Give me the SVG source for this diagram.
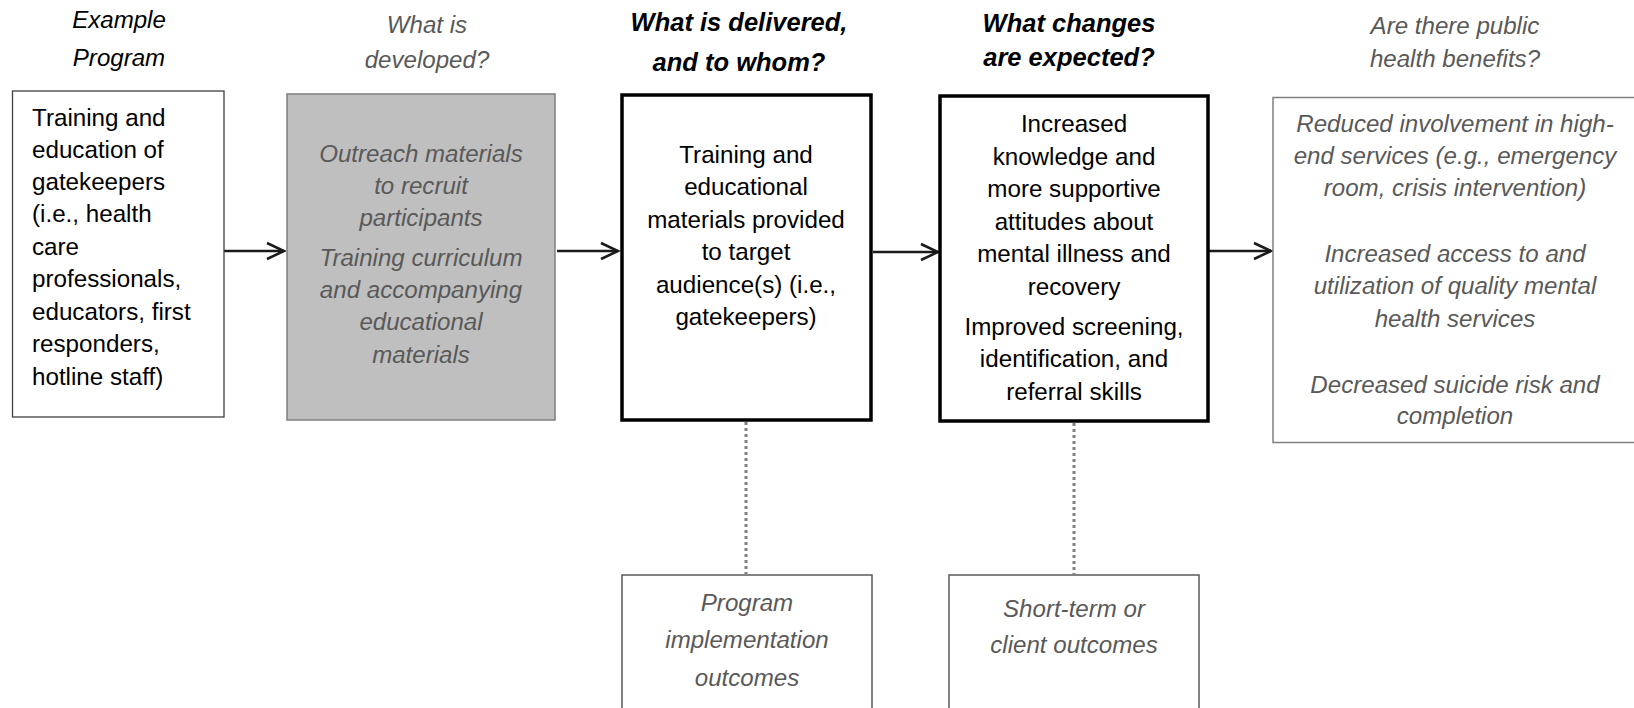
<svg xmlns="http://www.w3.org/2000/svg" width="1634" height="708" viewBox="0 0 1634 708">
<style>
text{font-family:"Liberation Sans",Arial,sans-serif;font-size:24.1px}
.c{text-anchor:middle}
.it{font-style:italic}
.g{fill:#595959}
.k{fill:#000}
.r{font-size:24.2px}
.hb{font-weight:bold;font-style:italic;font-size:25.5px}
.conn{stroke:#1a1a1a;stroke-width:2.5;fill:none}
.dot{stroke:#808080;stroke-width:3;stroke-dasharray:3 3;fill:none}
</style>
<defs>
<marker id="ah" markerUnits="userSpaceOnUse" markerWidth="24" markerHeight="22" refX="19" refY="11" orient="auto">
<path d="M2,3 L19,11 L2,19" fill="none" stroke="#1a1a1a" stroke-width="2.5"/>
</marker>
</defs>
<rect width="1634" height="708" fill="#fff"/>

<g id="headers">
<text class="c it k" x="119" y="28">Example</text>
<text class="c it k" x="119" y="66">Program</text>
<text class="c it g" x="427" y="33">What is</text>
<text class="c it g" x="427" y="68">developed?</text>
<text class="c hb k" x="739" y="31">What is delivered,</text>
<text class="c hb k" x="739" y="71">and to whom?</text>
<text class="c hb k" x="1069" y="32">What changes</text>
<text class="c hb k" x="1069" y="66">are expected?</text>
<text class="c it g" x="1455" y="34">Are there public</text>
<text class="c it g" x="1455" y="67">health benefits?</text>
</g>

<g id="connectors">
<line class="conn" x1="224" y1="251" x2="284" y2="251" marker-end="url(#ah)"/>
<line class="conn" x1="557" y1="251" x2="618" y2="251" marker-end="url(#ah)"/>
<line class="conn" x1="873" y1="252" x2="938" y2="252" marker-end="url(#ah)"/>
<line class="conn" x1="1209" y1="251" x2="1271" y2="251" marker-end="url(#ah)"/>
<line class="dot" x1="746" y1="422" x2="746" y2="574"/>
<line class="dot" x1="1074" y1="423" x2="1074" y2="574"/>
</g>

<g id="node-program">
<rect x="12.5" y="91" width="211.5" height="326" fill="#fff" stroke="#404040" stroke-width="1.3"/>
<text class="k r" x="32" y="126">Training and</text>
<text class="k r" x="32" y="158">education of</text>
<text class="k r" x="32" y="190">gatekeepers</text>
<text class="k r" x="32" y="222">(i.e., health</text>
<text class="k r" x="32" y="255">care</text>
<text class="k r" x="32" y="287">professionals,</text>
<text class="k r" x="32" y="320">educators, first</text>
<text class="k r" x="32" y="352">responders,</text>
<text class="k r" x="32" y="385">hotline staff)</text>
</g>

<g id="node-developed">
<rect x="287" y="94" width="268" height="326" fill="#bfbfbf" stroke="#7f7f7f" stroke-width="1.5"/>
<text class="c it g" x="421" y="162">Outreach materials</text>
<text class="c it g" x="421" y="194">to recruit</text>
<text class="c it g" x="421" y="226">participants</text>
<text class="c it g" x="421" y="266">Training curriculum</text>
<text class="c it g" x="421" y="298">and accompanying</text>
<text class="c it g" x="421" y="330">educational</text>
<text class="c it g" x="421" y="363">materials</text>
</g>

<g id="node-delivered">
<rect x="622" y="95" width="249" height="325" fill="#fff" stroke="#000" stroke-width="3.5"/>
<text class="c k r" x="746" y="163">Training and</text>
<text class="c k r" x="746" y="195">educational</text>
<text class="c k r" x="746" y="228">materials provided</text>
<text class="c k r" x="746" y="260">to target</text>
<text class="c k r" x="746" y="293">audience(s) (i.e.,</text>
<text class="c k r" x="746" y="325">gatekeepers)</text>
</g>

<g id="node-changes">
<rect x="940" y="96" width="268" height="325" fill="#fff" stroke="#000" stroke-width="3.5"/>
<text class="c k r" x="1074" y="132">Increased</text>
<text class="c k r" x="1074" y="165">knowledge and</text>
<text class="c k r" x="1074" y="197">more supportive</text>
<text class="c k r" x="1074" y="230">attitudes about</text>
<text class="c k r" x="1074" y="262">mental illness and</text>
<text class="c k r" x="1074" y="295">recovery</text>
<text class="c k r" x="1074" y="335">Improved screening,</text>
<text class="c k r" x="1074" y="367">identification, and</text>
<text class="c k r" x="1074" y="400">referral skills</text>
</g>

<g id="node-benefits">
<rect x="1273" y="97.5" width="380" height="345" fill="#fff" stroke="#808080" stroke-width="1.5"/>
<text class="c it g" x="1455" y="132">Reduced involvement in high-</text>
<text class="c it g" x="1455" y="164">end services (e.g., emergency</text>
<text class="c it g" x="1455" y="196">room, crisis intervention)</text>
<text class="c it g" x="1455" y="262">Increased access to and</text>
<text class="c it g" x="1455" y="294">utilization of quality mental</text>
<text class="c it g" x="1455" y="327">health services</text>
<text class="c it g" x="1455" y="393">Decreased suicide risk and</text>
<text class="c it g" x="1455" y="424">completion</text>
</g>

<g id="node-implementation">
<rect x="622" y="575" width="250" height="150" fill="#fff" stroke="#595959" stroke-width="1.5"/>
<text class="c it g" x="747" y="611">Program</text>
<text class="c it g" x="747" y="648">implementation</text>
<text class="c it g" x="747" y="686">outcomes</text>
</g>

<g id="node-shortterm">
<rect x="949" y="575" width="250" height="150" fill="#fff" stroke="#595959" stroke-width="1.5"/>
<text class="c it g" x="1074" y="617">Short-term or</text>
<text class="c it g" x="1074" y="653">client outcomes</text>
</g>
</svg>
